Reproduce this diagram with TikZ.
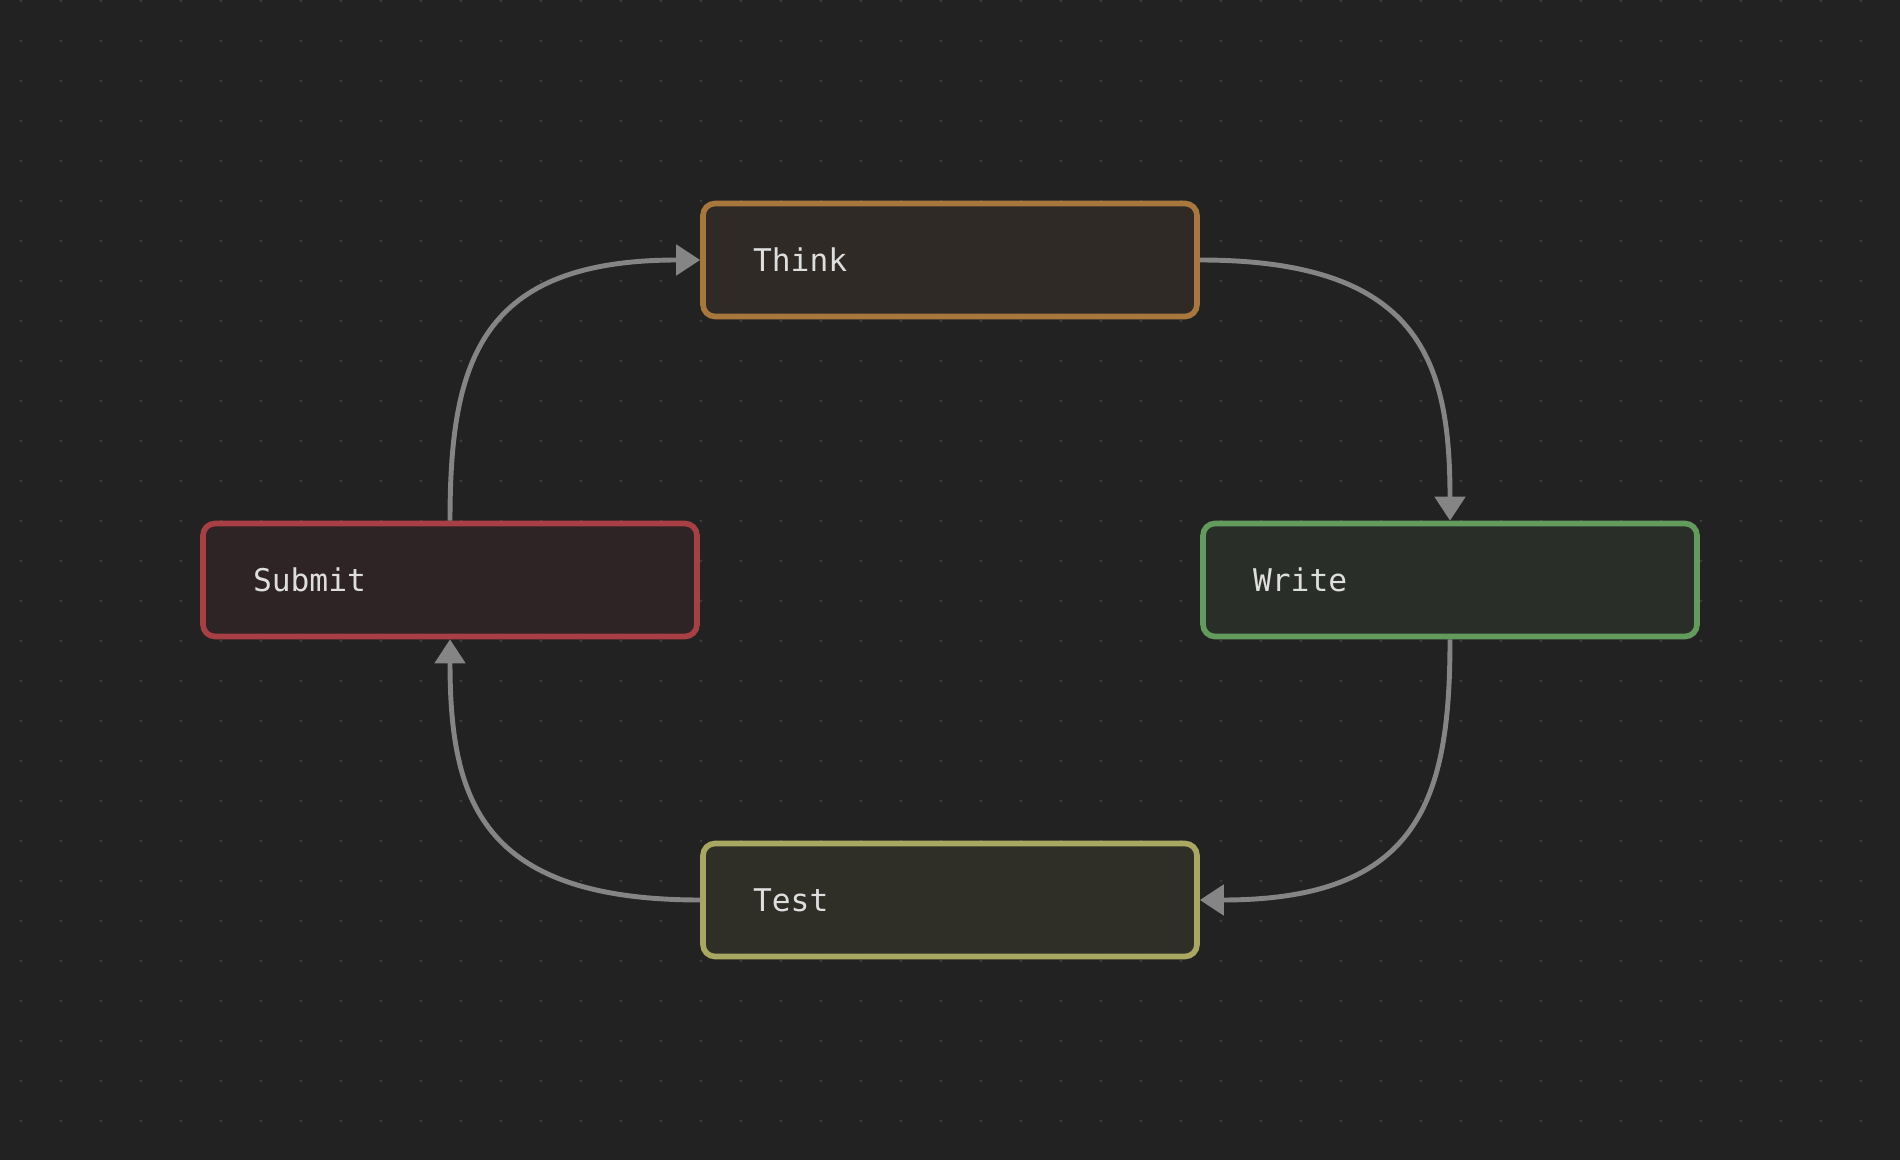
\documentclass[tikz,border=0pt]{standalone}
\usepackage{fontspec}
\setmonofont{DejaVu Sans Mono}
\usetikzlibrary{arrows.meta}

\definecolor{bgdark}{HTML}{222222}
\definecolor{dotgray}{HTML}{3D3D3D}
\definecolor{flowgray}{HTML}{858585}
\definecolor{labelwhite}{HTML}{DEDEDE}
\definecolor{thinkline}{HTML}{A8773E}
\definecolor{thinkfill}{HTML}{2F2A26}
\definecolor{writeline}{HTML}{629B5B}
\definecolor{writefill}{HTML}{2A2E28}
\definecolor{submitline}{HTML}{A83F45}
\definecolor{submitfill}{HTML}{2F2425}
\definecolor{testline}{HTML}{A9A862}
\definecolor{testfill}{HTML}{2F2F28}

\begin{document}
\begin{tikzpicture}[
  stage/.style={draw, line width=1.6pt, rounded corners=0.12cm,
    minimum height=1.13cm, text width=3.94cm, inner xsep=0.5cm, align=left,
    text=labelwhite, font=\ttfamily\fontsize{8.9}{10}\selectfont},
  flow/.style={draw=flowgray, line width=1.4pt, -{Triangle[length=2.4mm,width=3.0mm]}}
]

\fill[bgdark] (0,0) rectangle (19,11.6);
\useasboundingbox (0,0) rectangle (19,11.6);
\foreach \i in {0,...,46}
  \foreach \j in {0,...,28}
    \fill[dotgray] (0.21+0.4*\i,11.59-0.4*\j) circle (0.015);

\node[stage, draw=thinkline, fill=thinkfill] (think) at (9.5,9.0) {Think};
\node[stage, draw=writeline, fill=writefill] (write) at (14.5,5.8) {Write};
\node[stage, draw=testline, fill=testfill] (test) at (9.5,2.6) {Test};
\node[stage, draw=submitline, fill=submitfill] (submit) at (4.5,5.8) {Submit};

\draw[flow] (think.east) .. controls +(2.2,0) and +(0,1.6) .. (write.north);
\draw[flow] (write.south) .. controls +(0,-1.6) and +(2.2,0) .. (test.east);
\draw[flow] (test.west) .. controls +(-2.2,0) and +(0,-1.6) .. (submit.south);
\draw[flow] (submit.north) .. controls +(0,1.6) and +(-2.2,0) .. (think.west);
\end{tikzpicture}
\end{document}
